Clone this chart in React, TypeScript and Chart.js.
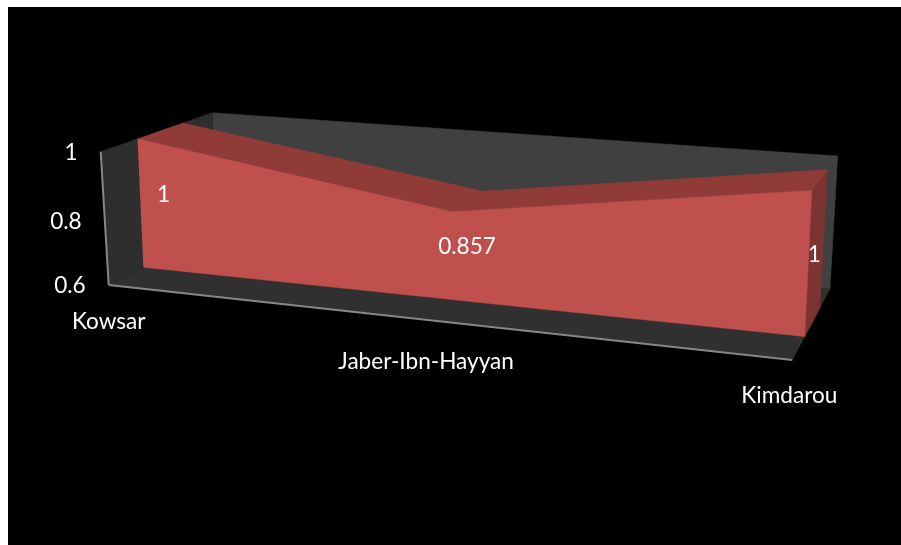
import React, { useEffect, useRef } from "react";
import { Chart, registerables } from "chart.js";

Chart.register(...registerables);

// Chart content
const categories = ["Kowsar", "Jaber-Ibn-Hayyan", "Kimdarou"];
const values = [1, 0.857, 1];
const yTicks = [1, 0.8, 0.6];
const yMin = 0.6;
const yMax = 1;

// Page placement of the canvas
const LEFT = 8;
const TOP = 7;
const WIDTH = 893;
const HEIGHT = 538;

// Corners of the 3D plot box, [x, y] on the page
const BOX = {
  floorFrontLeft: [108.7, 285],
  floorFrontRight: [792.3, 360],
  floorBackLeft: [213.7, 231],
  floorBackRight: [830, 289],
  topFrontLeft: [100.7, 151.7],
  topFrontRight: [799, 207.5],
  topBackLeft: [212.3, 112.7],
  topBackRight: [837.7, 156],
};
const SLAB_FRONT = 0.33;
const SLAB_BACK = 0.735;
const FORESHORTEN = 0.875;

const lerp = (a: number, b: number, t: number) => a + (b - a) * t;

// t: 0..1 along the categories, v: axis value, z: 0 front .. 1 back
function project(t: number, v: number, z: number) {
  const p = (t * FORESHORTEN) / (1 - t + t * FORESHORTEN);
  const h = (v - yMin) / (yMax - yMin);
  const edge = (a: number[], b: number[]) => [lerp(a[0], b[0], p), lerp(a[1], b[1], p)];
  const fb = edge(BOX.floorFrontLeft, BOX.floorFrontRight);
  const bb = edge(BOX.floorBackLeft, BOX.floorBackRight);
  const ft = edge(BOX.topFrontLeft, BOX.topFrontRight);
  const bt = edge(BOX.topBackLeft, BOX.topBackRight);
  const bottom = [lerp(fb[0], bb[0], z), lerp(fb[1], bb[1], z)];
  const top = [lerp(ft[0], bt[0], z), lerp(ft[1], bt[1], z)];
  return { x: lerp(bottom[0], top[0], h), y: lerp(bottom[1], top[1], h) };
}

const catPos = (i: number) => i / (categories.length - 1);
const last = categories.length - 1;

const face = (label: string, color: string, data: { x: number; y: number }[]) => ({
  label,
  data,
  showLine: true,
  fill: "shape",
  backgroundColor: color,
  borderColor: color,
  borderWidth: 0.5,
  pointRadius: 0,
  tension: 0,
});

const edgeLine = (label: string, data: { x: number; y: number }[]) => ({
  label,
  data,
  showLine: true,
  fill: false,
  borderColor: "#868686",
  borderWidth: 2,
  pointRadius: 0,
  tension: 0,
});

// Faces listed back to front
const faces = [
  face("back wall", "#404040", [
    project(0, yMax, 1),
    project(1, yMax, 1),
    project(1, yMin, 1),
    project(0, yMin, 1),
  ]),
  face("side wall", "#2e2e2e", [
    project(0, yMax, 0),
    project(0, yMax, 1),
    project(0, yMin, 1),
    project(0, yMin, 0),
  ]),
  face("floor", "#303030", [
    project(0, yMin, 0),
    project(1, yMin, 0),
    project(1, yMin, 1),
    project(0, yMin, 1),
  ]),
  face("area end", "#7b3432", [
    project(1, values[last], SLAB_FRONT),
    project(1, values[last], SLAB_BACK),
    project(1, yMin, SLAB_BACK),
    project(1, yMin, SLAB_FRONT),
  ]),
  face("area top", "#913b39", [
    ...values.map((v, i) => project(catPos(i), v, SLAB_FRONT)),
    ...values.map((v, i) => project(catPos(i), v, SLAB_BACK)).reverse(),
  ]),
  face("area front", "#c0504d", [
    ...values.map((v, i) => project(catPos(i), v, SLAB_FRONT)),
    project(1, yMin, SLAB_FRONT),
    project(0, yMin, SLAB_FRONT),
  ]),
  edgeLine("value axis", [project(0, yMin, 0), project(0, yMax, 0)]),
  edgeLine("category axis", [project(0, yMin, 0), project(1, yMin, 0)]),
];

const FONT = '22.6px Lato, "Noto Sans", sans-serif';

// Text offsets from the projected anchor points
const tickShift = { x: -23, y: [1.3, 3.6, 1] };
const catShift = { x: [0, -1.6, -3], y: [37, 42, 36] };
const labelShift = { x: [23, 15, 6], y: -8.5 };

const textPlugin = {
  id: "boxText",
  afterDatasetsDraw(chart: any) {
    const { ctx, scales } = chart;
    const put = (text: string, p: { x: number; y: number }, dx: number, dy: number) => {
      ctx.fillText(text, scales.x.getPixelForValue(p.x + dx), scales.y.getPixelForValue(p.y + dy));
    };
    ctx.save();
    ctx.font = FONT;
    ctx.fillStyle = "#ffffff";
    ctx.textBaseline = "middle";

    ctx.textAlign = "right";
    yTicks.forEach((v, i) => put(String(v), project(0, v, 0), tickShift.x, tickShift.y[i]));

    ctx.textAlign = "center";
    categories.forEach((c, i) => put(c, project(catPos(i), yMin, 0), catShift.x[i], catShift.y[i]));

    values.forEach((v, i) => {
      const front = project(catPos(i), v, SLAB_FRONT);
      const base = project(catPos(i), yMin, SLAB_FRONT);
      const mid = { x: (front.x + base.x) / 2, y: (front.y + base.y) / 2 };
      put(String(v), mid, labelShift.x[i], labelShift.y);
    });
    ctx.restore();
  },
};

export default function App() {
  const ref = useRef<HTMLCanvasElement>(null);

  useEffect(() => {
    const chart = new Chart(ref.current!, {
      type: "scatter",
      data: {
        datasets: faces.map((d, i) => ({ ...d, order: faces.length - i })) as any,
      },
      options: {
        animation: false,
        responsive: false,
        layout: { padding: 0 },
        plugins: { legend: { display: false }, tooltip: { enabled: false } },
        scales: {
          x: { type: "linear", display: false, min: LEFT, max: LEFT + WIDTH },
          y: { type: "linear", display: false, min: TOP, max: TOP + HEIGHT, reverse: true },
        },
      },
      plugins: [textPlugin],
    });
    return () => chart.destroy();
  }, []);

  return (
    <canvas
      ref={ref}
      width={WIDTH}
      height={HEIGHT}
      style={{ position: "fixed", left: LEFT, top: TOP, width: WIDTH, height: HEIGHT, background: "#000" }}
    />
  );
}
